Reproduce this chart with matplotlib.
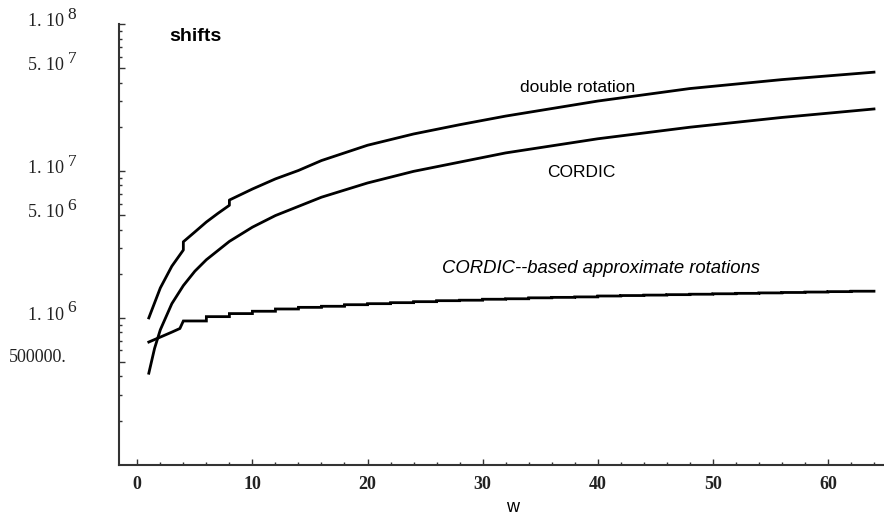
import matplotlib
matplotlib.use('Agg')
import matplotlib.pyplot as plt
from matplotlib.ticker import FixedLocator, NullFormatter
from matplotlib.transforms import ScaledTranslation, blended_transform_factory

# ---------------- data ----------------
# double rotation (vertical jumps at w = 4, 8)
dr_w = [1, 2, 3, 4, 4, 5, 6, 7, 8, 8, 10, 12, 14, 16, 20, 24, 28, 32, 40, 48, 56, 64]
dr_vals = [1.0e6, 1.6e6, 2.25e6, 2.9e6, 3.3e6, 3.85e6, 4.5e6, 5.15e6, 5.85e6, 6.35e6,
           7.55e6, 8.85e6, 1.01e7, 1.18e7, 1.5e7, 1.79e7, 2.07e7, 2.37e7,
           3.0e7, 3.65e7, 4.2e7, 4.72e7]

# CORDIC
cordic_w = [1, 1.5, 2, 3, 4, 5, 6, 8, 10, 12, 16, 20, 24, 32, 40, 48, 56, 64]
cordic_vals = [4.2e5, 6.2e5, 8.3e5, 1.25e6, 1.66e6, 2.08e6, 2.49e6, 3.32e6, 4.15e6,
               4.98e6, 6.64e6, 8.3e6, 9.96e6, 1.33e7, 1.66e7, 1.99e7, 2.32e7, 2.65e7]

# CORDIC-based approximate rotations: rising start, then steps at even w
approx_start_w = [1, 2, 3, 3.7]
approx_start_vals = [6.85e5, 7.4e5, 8.0e5, 8.47e5]
approx_step_w = [4, 6, 8, 10, 12, 14, 16, 18, 20, 22, 24, 26, 28, 30, 32, 34, 36, 38,
                 40, 42, 44, 46, 48, 50, 52, 54, 56, 58, 60, 62]
approx_levels = [9.53e5, 1.02e6, 1.07e6, 1.11e6, 1.15e6, 1.18e6, 1.20e6, 1.23e6, 1.25e6,
                 1.27e6, 1.29e6, 1.31e6, 1.32e6, 1.34e6, 1.35e6, 1.37e6, 1.38e6, 1.39e6,
                 1.41e6, 1.42e6, 1.43e6, 1.44e6, 1.45e6, 1.46e6, 1.47e6, 1.48e6, 1.49e6,
                 1.50e6, 1.51e6, 1.52e6]
approx_end_w = 64

x_ticks = [0, 10, 20, 30, 40, 50, 60]
y_major = [5e5, 1e6, 5e6, 1e7, 5e7, 1e8]
y_label_base = ["500000.", "1. 10", "5. 10", "1. 10", "5. 10", "1. 10"]
y_label_exp = ["", "6", "6", "7", "7", "8"]

# ---------------- figure ----------------
W, H = 884, 519
fig = plt.figure(figsize=(W / 100, H / 100), dpi=100)
ax = fig.add_axes([119 / W, 1 - 464.7 / H, (884 - 119) / W, (464.7 - 24.3) / H])

ax.set_yscale('log')
ax.set_xlim(-1.59, 64.87)
ax.set_ylim(1e5, 1e8)

lc = 'black'
lw = 2.0
ax.plot(dr_w, dr_vals, color=lc, lw=lw, solid_joinstyle='round')
ax.plot(cordic_w, cordic_vals, color=lc, lw=lw, solid_joinstyle='round')

# build step path for approximate rotations
ax_w = list(approx_start_w)
ax_v = list(approx_start_vals)
prev = None
for w, lev in zip(approx_step_w, approx_levels):
    if prev is not None:
        ax_w.append(w)
        ax_v.append(prev)
    ax_w.append(w)
    ax_v.append(lev)
    prev = lev
ax_w.append(approx_end_w)
ax_v.append(prev)
ax.plot(ax_w, ax_v, color=lc, lw=lw, solid_joinstyle='miter')

# spines
for s in ['top', 'right']:
    ax.spines[s].set_visible(False)
for s in ['left', 'bottom']:
    ax.spines[s].set_linewidth(1.5)
    ax.spines[s].set_color('#333333')

# x ticks
ax.xaxis.set_major_locator(FixedLocator(x_ticks))
ax.xaxis.set_minor_locator(FixedLocator([v for v in range(0, 65, 2) if v % 10 != 0]))
ax.set_xticklabels([str(v) for v in x_ticks], fontfamily='Liberation Serif',
                   fontweight='bold', fontsize=13, color='#222222')
ax.tick_params(axis='x', which='major', direction='in', length=4, width=1, pad=8, color='#333333')
ax.tick_params(axis='x', which='minor', direction='in', length=2.2, width=1, color='#333333')

# y ticks (labels drawn manually to mimic the superscript style)
minor = []
for dec in [1e5, 1e6, 1e7]:
    for m in [2, 3, 4, 6, 7, 8, 9]:
        minor.append(m * dec)
ax.yaxis.set_major_locator(FixedLocator(y_major))
ax.yaxis.set_minor_locator(FixedLocator(minor))
ax.yaxis.set_major_formatter(NullFormatter())
ax.yaxis.set_minor_formatter(NullFormatter())
ax.tick_params(axis='y', which='major', direction='in', length=4, width=1, color='#333333')
ax.tick_params(axis='y', which='minor', direction='in', length=2.2, width=1, color='#333333')

fig_px = fig.dpi_scale_trans
ytr = blended_transform_factory(fig.transFigure, ax.transData)
for val, base, ex in zip(y_major, y_label_base, y_label_exp):
    if ex:
        t = ytr + ScaledTranslation(0, -1.7 / 100, fig_px)
        ax.text(64 / W, val, base, transform=t, ha='right', va='baseline',
                fontfamily='Liberation Serif', fontsize=13, color='#222222', clip_on=False)
        t2 = ytr + ScaledTranslation(0, 5.5 / 100, fig_px)
        ax.text(67.5 / W, val, ex, transform=t2, ha='left', va='baseline',
                fontfamily='Liberation Serif', fontsize=12.5, color='#222222', clip_on=False)
    else:
        t = ytr + ScaledTranslation(0, 0, fig_px)
        ax.text(67 / W, val, base, transform=t, ha='right', va='baseline',
                fontfamily='Liberation Serif', fontsize=13, color='#222222', clip_on=False)

# texts
def fx(px):
    return px / W

def fy(py):
    return 1 - py / H

fig.text(fx(169), fy(41), 'shifts', fontfamily='Liberation Sans', fontweight='bold',
         fontsize=14, ha='left', va='baseline')
fig.text(fx(578), fy(92.5), 'double rotation', fontfamily='Liberation Sans',
         fontsize=12.5, ha='center', va='baseline')
fig.text(fx(581.3), fy(176.7), 'CORDIC', fontfamily='Liberation Sans',
         fontsize=12.5, ha='center', va='baseline')
fig.text(fx(601), fy(273), 'CORDIC--based approximate rotations', fontfamily='Liberation Sans',
         fontstyle='italic', fontsize=13.3, ha='center', va='baseline')
fig.text(fx(513), fy(508), 'w', fontfamily='Liberation Sans', fontsize=13,
         ha='center', va='center')

fig.savefig('out.png', dpi=100)
